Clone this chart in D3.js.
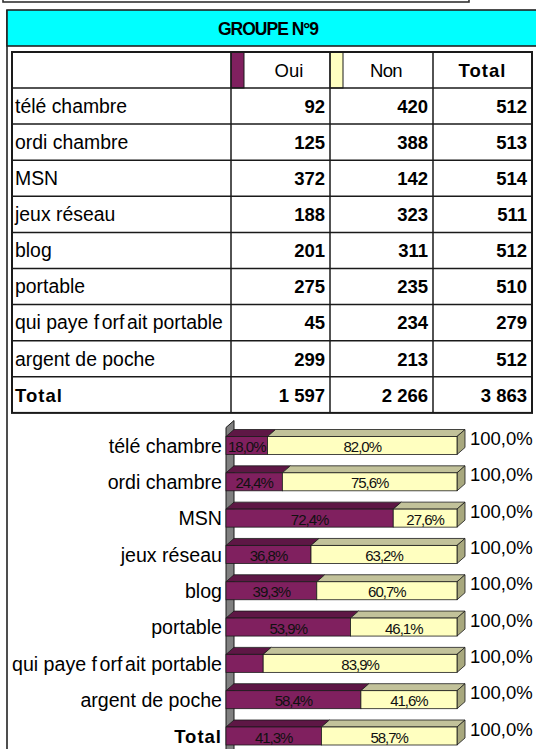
<!DOCTYPE html>
<html>
<head>
<meta charset="utf-8">
<script src="https://cdn.jsdelivr.net/npm/d3@7"></script>
<style>
  html, body { margin: 0; padding: 0; background: #fff; }
  svg { display: block; font-family: "Liberation Sans", Arial, sans-serif; }
</style>
</head>
<body>
<svg id="chart" width="536" height="749"></svg>
<script>
// ---- data ----
const title = "GROUPE N°9";
const seriesNames = ["Oui", "Non"];
const totalName = "Total";
const categories = [
  "télé chambre", "ordi chambre", "MSN", "jeux réseau", "blog",
  "portable", "qui paye forfait portable", "argent de poche", "Total"
];
const ouiCounts = [92, 125, 372, 188, 201, 275, 45, 299, 1597];
const nonCounts = [420, 388, 142, 323, 311, 235, 234, 213, 2266];
const rowTotals = [512, 513, 514, 511, 512, 510, 279, 512, 3863];
const ouiPct = [18.0, 24.4, 72.4, 36.8, 39.3, 53.9, 16.1, 58.4, 41.3];
const nonPct = [82.0, 75.6, 27.6, 63.2, 60.7, 46.1, 83.9, 41.6, 58.7];
const ouiLabelShown = [true, true, true, true, true, true, false, true, true];
const rowPctTotals = [100, 100, 100, 100, 100, 100, 100, 100, 100];

// ---- colours ----
const colOui = { front: "#80205f", top: "#5e1745", side: "#4f133a" };
const colNon = { front: "#ffffc0", top: "#c2c29a", side: "#a8a87e" };
const stroke = "#1a1a1a";

// French number formats
const fr = d3.formatLocale({ decimal: ",", thousands: "\u00a0", grouping: [3], currency: ["", " €"] });
const fmtInt = fr.format(",d");
const fmtPct = v => fr.format(".1f")(v) + "%";

const svg = d3.select("#chart");

// Writes a label, leaving the wider gap this renderer puts after each "f"
function setLabel(sel, str) {
  sel.text(null);
  const parts = str.split(/(?<=f)/);
  parts.forEach((p, i) => {
    sel.append("tspan").attr("dx", i === 0 ? 0 : 2.6).text(p);
  });
}

// ---- frame and title band ----
svg.append("rect").attr("x", 3).attr("y", -12).attr("width", 466).attr("height", 14)
  .attr("fill", "none").attr("stroke", "#333").attr("stroke-width", 1.6);
svg.append("line").attr("x1", 7).attr("x2", 7).attr("y1", 10).attr("y2", 749)
  .attr("stroke", "#222").attr("stroke-width", 1.6);
svg.append("rect").attr("x", 7).attr("y", 10).attr("width", 540).attr("height", 36)
  .attr("fill", "#00ffff").attr("stroke", "#222").attr("stroke-width", 1.6);
svg.append("text").attr("x", 268).attr("y", 34.5).attr("text-anchor", "middle")
  .attr("font-size", 17.5).attr("font-weight", "bold").attr("letter-spacing", -1)
  .text(title);

// ---- table ----
const colEdges = [12, 231, 330, 433, 532];
const swatchW = 13;
const headTop = 52, headH = 36;
const rowY = d3.scaleBand().domain(categories).range([headTop + headH, headTop + headH + 9 * 36.1]);
const tableBottom = rowY.range()[1];
const tfs = 18.5;   // numbers and column heads
const lfs = 19.4;   // row labels

const table = svg.append("g");
// header swatches
table.append("rect").attr("x", colEdges[1]).attr("y", headTop).attr("width", swatchW).attr("height", headH)
  .attr("fill", colOui.front).attr("stroke", stroke).attr("stroke-width", 1);
table.append("rect").attr("x", colEdges[2]).attr("y", headTop).attr("width", swatchW).attr("height", headH)
  .attr("fill", colNon.front).attr("stroke", stroke).attr("stroke-width", 1);
// header texts
table.append("text").attr("x", (colEdges[1] + swatchW + colEdges[2]) / 2 + 2).attr("y", headTop + headH / 2 + 6.6)
  .attr("text-anchor", "middle").attr("font-size", tfs).text(seriesNames[0]);
table.append("text").attr("x", (colEdges[2] + swatchW + colEdges[3]) / 2 - 2).attr("y", headTop + headH / 2 + 6.6)
  .attr("text-anchor", "middle").attr("font-size", tfs).attr("letter-spacing", -0.6).text(seriesNames[1]);
table.append("text").attr("x", (colEdges[3] + colEdges[4]) / 2).attr("y", headTop + headH / 2 + 6.6)
  .attr("text-anchor", "middle").attr("font-size", tfs).attr("font-weight", "bold").attr("letter-spacing", 1)
  .text(totalName);

// body rows
categories.forEach((c, i) => {
  const cy = rowY(c) + rowY.bandwidth() / 2 + 6.8;
  const isTotal = i === categories.length - 1;
  const lab = table.append("text").attr("x", colEdges[0] + 3).attr("y", cy)
    .attr("font-size", isTotal ? tfs : lfs)
    .attr("font-weight", isTotal ? "bold" : "normal").attr("letter-spacing", isTotal ? 1 : 0);
  if (isTotal) lab.text(c); else setLabel(lab, c);
  [ouiCounts[i], nonCounts[i], rowTotals[i]].forEach((v, k) => {
    table.append("text").attr("x", colEdges[k + 2] - 5).attr("y", cy)
      .attr("text-anchor", "end").attr("font-size", tfs).attr("font-weight", "bold")
      .text(fmtInt(v));
  });
});

// grid lines
const gl = table.append("g").attr("stroke", stroke).attr("stroke-width", 1.5);
[headTop + headH].concat(categories.slice(1).map(c => rowY(c))).forEach(y => {
  gl.append("line").attr("x1", colEdges[0]).attr("x2", colEdges[4]).attr("y1", y).attr("y2", y);
});
colEdges.slice(1, 4).forEach(x => {
  gl.append("line").attr("x1", x).attr("x2", x).attr("y1", headTop).attr("y2", tableBottom);
});
table.append("rect").attr("x", colEdges[0]).attr("y", headTop)
  .attr("width", colEdges[4] - colEdges[0]).attr("height", tableBottom - headTop)
  .attr("fill", "none").attr("stroke", stroke).attr("stroke-width", 2);

// ---- 3D stacked 100% bar chart ----
const x = d3.scaleLinear().domain([0, 100]).range([226, 457]);
const y = d3.scalePoint().domain(categories).range([445.5, 736]);
const barH = 18, dx = 8, dy = 7;

const chart = svg.append("g");

// side wall
const wallTop = y(categories[0]) - barH / 2 - 9;
chart.append("polygon")
  .attr("points", [[x(0), wallTop], [x(0) + dx, wallTop - dy], [x(0) + dx, 760], [x(0), 760]].join(" "))
  .attr("fill", "#808080").attr("stroke", stroke).attr("stroke-width", 1);

categories.forEach((c, i) => {
  const g = chart.append("g");
  const yt = y(c) - barH / 2, yb = y(c) + barH / 2;
  const segs = [
    { a: 0, b: ouiPct[i], v: ouiPct[i], col: colOui, show: ouiLabelShown[i] },
    { a: ouiPct[i], b: ouiPct[i] + nonPct[i], v: nonPct[i], col: colNon, show: true }
  ];
  segs.forEach((s, k) => {
    const x0 = x(s.a), x1 = x(s.b);
    // top face
    g.append("polygon")
      .attr("points", [[x0, yt], [x0 + dx, yt - dy], [x1 + dx, yt - dy], [x1, yt]].join(" "))
      .attr("fill", s.col.top).attr("stroke", stroke).attr("stroke-width", 0.8).attr("stroke-linejoin", "round");
    // right side face of the bar end
    if (k === segs.length - 1) {
      g.append("polygon")
        .attr("points", [[x1, yt], [x1 + dx, yt - dy], [x1 + dx, yb - dy], [x1, yb]].join(" "))
        .attr("fill", s.col.side).attr("stroke", stroke).attr("stroke-width", 0.8).attr("stroke-linejoin", "round");
    }
    // front face
    g.append("rect").attr("x", x0).attr("y", yt).attr("width", x1 - x0).attr("height", barH)
      .attr("fill", s.col.front).attr("stroke", stroke).attr("stroke-width", 0.8);
    if (s.show) {
      g.append("text").attr("x", (x0 + x1) / 2).attr("y", y(c) + 6.5)
        .attr("text-anchor", "middle").attr("font-size", 15).attr("letter-spacing", -1)
        .attr("fill", "#111").text(fmtPct(s.v));
    }
  });
  // row total
  g.append("text").attr("x", x(100) + dx + 5).attr("y", y(c) - 0.5)
    .attr("font-size", 18.5).text(fmtPct(rowPctTotals[i]));
});

// category axis
const axis = chart.append("g").attr("transform", `translate(${x(0)},0)`)
  .call(d3.axisLeft(y).tickSize(0).tickPadding(4));
axis.select(".domain").remove();
axis.selectAll(".tick text")
  .attr("font-family", "Liberation Sans, Arial, sans-serif")
  .attr("font-size", 19.6).attr("fill", "#000").attr("dy", "0.34em")
  .each(function (d, i) {
    const t = d3.select(this);
    if (i === categories.length - 1) {
      t.attr("font-weight", "bold").attr("letter-spacing", 1).attr("font-size", 18.5);
    } else {
      setLabel(t, d);
    }
  });
</script>
</body>
</html>
